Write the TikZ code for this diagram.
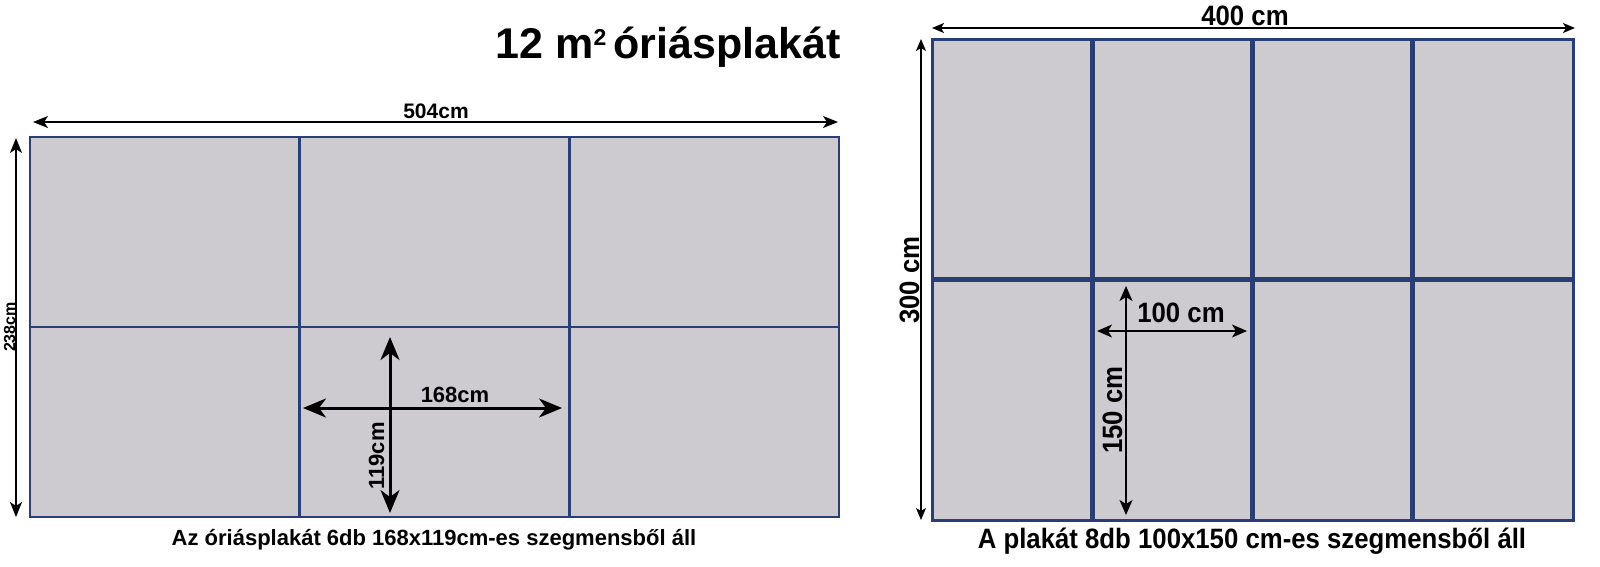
\documentclass[tikz,border=0pt]{standalone}
\usepackage{fontspec}
\setmainfont{Liberation Sans}
\newfontfamily\narrowsf[FakeStretch=0.92]{Liberation Sans}
\usetikzlibrary{arrows.meta}
\definecolor{seamblue}{RGB}{40,62,116}
\definecolor{panelgray}{RGB}{205,203,208}

\begin{document}
\begin{tikzpicture}[x=1pt, y=-1pt,
    every node/.style={inner sep=0pt},
    panel/.style={fill=panelgray, draw=seamblue, line width=2.8pt},
    seam/.style={draw=seamblue, line width=2.8pt},
    thickseam/.style={draw=seamblue, line width=5pt},
    dimarrow/.style={line width=1.7pt, {Stealth[length=15pt,width=12pt,inset=4pt]}-{Stealth[length=15pt,width=12pt,inset=4pt]}},
    crossarrow/.style={line width=3pt, {Stealth[length=23pt,width=19pt,inset=7pt]}-{Stealth[length=23pt,width=19pt,inset=7pt]}},
    thinarrow/.style={line width=1.3pt, {Stealth[length=12pt,width=10pt,inset=3pt]}-{Stealth[length=12pt,width=10pt,inset=3pt]}},
    midarrow/.style={line width=1.7pt, {Stealth[length=15pt,width=13pt,inset=4pt]}-{Stealth[length=15pt,width=13pt,inset=4pt]}},
    titlefont/.style={font=\bfseries\fontsize{43pt}{48pt}\selectfont},
    capfont/.style={font=\bfseries\fontsize{22pt}{26pt}\selectfont},
    dimfont/.style={font=\bfseries\fontsize{21pt}{25pt}\selectfont},
    crossfont/.style={font=\bfseries\fontsize{22pt}{26pt}\selectfont},
    smallfont/.style={font=\bfseries\fontsize{16pt}{19pt}\selectfont},
    narrowcap/.style={font=\narrowsf\bfseries\fontsize{28pt}{32pt}\selectfont},
    narrowdim/.style={font=\narrowsf\bfseries\fontsize{28pt}{32pt}\selectfont}]
\useasboundingbox (0,0) rectangle (1600,566);

% left poster: 3 x 2 segments
\draw[panel] (30,137) rectangle (839,517);
\foreach \x in {299.7,569.3} \draw[seam] (\x,137) -- (\x,517);
\draw[seam] (30,327) -- (839,327);

\node[titlefont, anchor=base] (title) at (668,58) {12 m\raisebox{13pt}{\fontsize{23pt}{23pt}\selectfont 2}\hspace{7pt}óriásplakát};

\coordinate (lw1) at (33,122);
\coordinate (lw2) at (838,122);
\draw[dimarrow] (lw1) -- (lw2);
\node[dimfont, anchor=base] (lwidth) at (436,118) {504cm};

\coordinate (lh1) at (16,138);
\coordinate (lh2) at (16,517);
\draw[dimarrow] (lh1) -- (lh2);
\node[smallfont, anchor=base, rotate=90] (lheight) at (15,327) {238cm};

\coordinate (sw1) at (303,408);
\coordinate (sw2) at (562,408);
\coordinate (sh1) at (390,337);
\coordinate (sh2) at (390,513);
\draw[crossarrow] (sw1) -- (sw2);
\draw[crossarrow] (sh1) -- (sh2);
\node[crossfont, anchor=base] (swidth) at (455,402) {168cm};
\node[crossfont, anchor=base, rotate=90] (sheight) at (384,456) {119cm};

\node[capfont, anchor=base] (lcaption) at (434,545) {Az óriásplakát 6db 168x119cm-es szegmensből áll};

% right poster: 4 x 2 segments
\draw[panel, line width=3pt] (932,39) rectangle (1573,520);
\foreach \x in {1092.25,1252.5,1412.75} \draw[thickseam] (\x,39) -- (\x,520);
\draw[thickseam] (932,279.5) -- (1573,279.5);

\coordinate (rw1) at (932,28);
\coordinate (rw2) at (1575,28);
\draw[thinarrow] (rw1) -- (rw2);
\node[narrowdim, anchor=base] (rwidth) at (1245,25) {400 cm};

\coordinate (rh1) at (921,39);
\coordinate (rh2) at (921,520);
\draw[thinarrow] (rh1) -- (rh2);
\node[narrowdim, anchor=base, rotate=90] (rheight) at (919,280) {300 cm};

\coordinate (pw1) at (1097,331);
\coordinate (pw2) at (1247,331);
\coordinate (ph1) at (1126,286);
\coordinate (ph2) at (1126,515);
\draw[midarrow] (pw1) -- (pw2);
\draw[midarrow] (ph1) -- (ph2);
\node[narrowdim, anchor=base] (pwidth) at (1181,322) {100 cm};
\node[narrowdim, anchor=base, rotate=90] (pheight) at (1122,410) {150 cm};

\node[narrowcap, anchor=base] (rcaption) at (1252,548) {A plakát 8db 100x150 cm-es szegmensből áll};
\end{tikzpicture}
\end{document}
